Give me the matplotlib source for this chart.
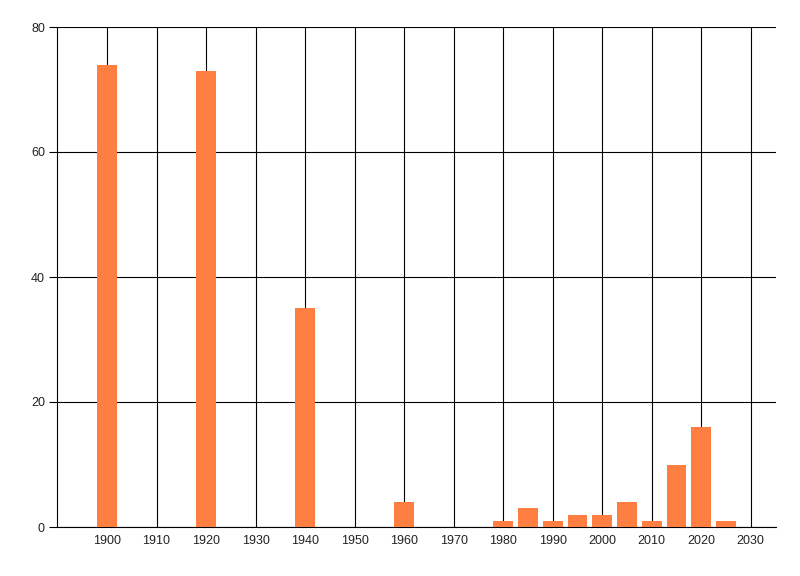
import matplotlib
matplotlib.use("Agg")
import matplotlib.pyplot as plt

years = [1900, 1920, 1940, 1960, 1980, 1985, 1990, 1995, 2000, 2005, 2010, 2015, 2020, 2025]
counts = [74, 73, 35, 4, 1, 3, 1, 2, 2, 4, 1, 10, 16, 1]
x_ticks = list(range(1900, 2031, 10))
y_ticks = [0, 20, 40, 60, 80]

plt.rcParams["font.family"] = ["Liberation Sans", "DejaVu Sans"]

fig = plt.figure(figsize=(8, 5.76), dpi=100)
ax = fig.add_axes([57.5 / 800, 49 / 576, 718 / 800, 500 / 576])

ax.bar(years, counts, width=4, color="#FF7F42", zorder=3)

ax.set_xlim(1890, 2035)
ax.set_ylim(0, 80)
ax.set_xticks(x_ticks)
ax.set_yticks(y_ticks)
ax.grid(True, color="black", linewidth=0.8, zorder=1)
ax.set_axisbelow(True)

for side in ("top", "right"):
    ax.spines[side].set_visible(False)
for side in ("left", "bottom"):
    ax.spines[side].set_color("black")
    ax.spines[side].set_linewidth(0.8)

ax.tick_params(axis="x", length=0, pad=6, labelsize=9, labelcolor="#222222")
ax.tick_params(axis="y", length=6, width=0.8, color="black", pad=3,
               labelsize=9, labelcolor="#222222")

fig.savefig("out.png", dpi=100)
